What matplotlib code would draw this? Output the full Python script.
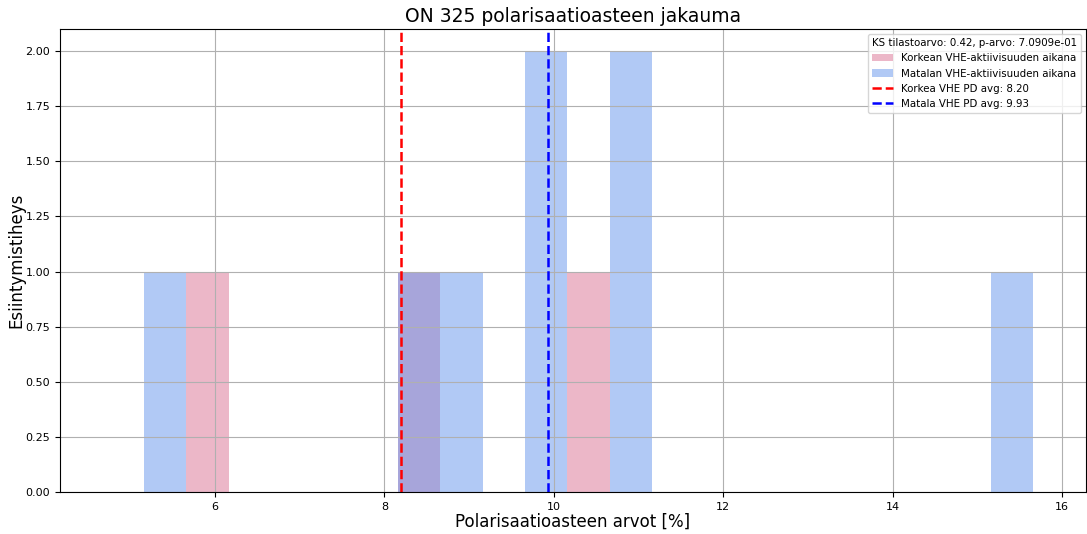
import numpy as np
import matplotlib
matplotlib.use("Agg")
import matplotlib.pyplot as plt

high_pd = [5.8, 8.4, 10.4]
low_pd = [5.35, 8.35, 8.85, 9.85, 9.95, 10.85, 10.95, 15.29]
ks_stat = 0.42
p_value = 7.0909e-01

bins = np.arange(4.66, 15.67, 0.5)

fig = plt.figure(figsize=(10.87, 5.34), dpi=100)
ax = fig.add_axes([60/1087, 1 - 492/534, 1026/1087, 463/534])

ax.hist(high_pd, bins=bins, color='palevioletred', alpha=0.5,
        label='Korkean VHE-aktiivisuuden aikana')
ax.hist(low_pd, bins=bins, color='cornflowerblue', alpha=0.5,
        label='Matalan VHE-aktiivisuuden aikana')
hm = np.mean(high_pd)
lm = np.mean(low_pd)
ax.axvline(hm, color='red', linestyle='--', linewidth=1.8,
           label=f'Korkea VHE PD avg: {hm:.2f}')
ax.axvline(lm, color='blue', linestyle='--', linewidth=1.8,
           label=f'Matala VHE PD avg: {lm:.2f}')

ax.set_xlim(4.17, 16.28)
ax.set_ylim(0, 2.1)
ax.set_yticks(np.arange(0, 2.01, 0.25))
ax.yaxis.set_major_formatter(matplotlib.ticker.FormatStrFormatter('%.2f'))
ax.tick_params(labelsize=8)
ax.grid(True)
ax.set_title('ON 325 polarisaatioasteen jakauma', fontsize=13.5, pad=5)
ax.set_xlabel('Polarisaatioasteen arvot [%]', fontsize=12, labelpad=1)
ax.set_ylabel('Esiintymistiheys', fontsize=12, labelpad=0)
leg = ax.legend(title=f'KS tilastoarvo: {ks_stat:.2f}, p-arvo: {p_value:.4e}',
                fontsize=7.4, title_fontsize=7.4, loc='upper right')
fig.savefig('out.png', dpi=100)
